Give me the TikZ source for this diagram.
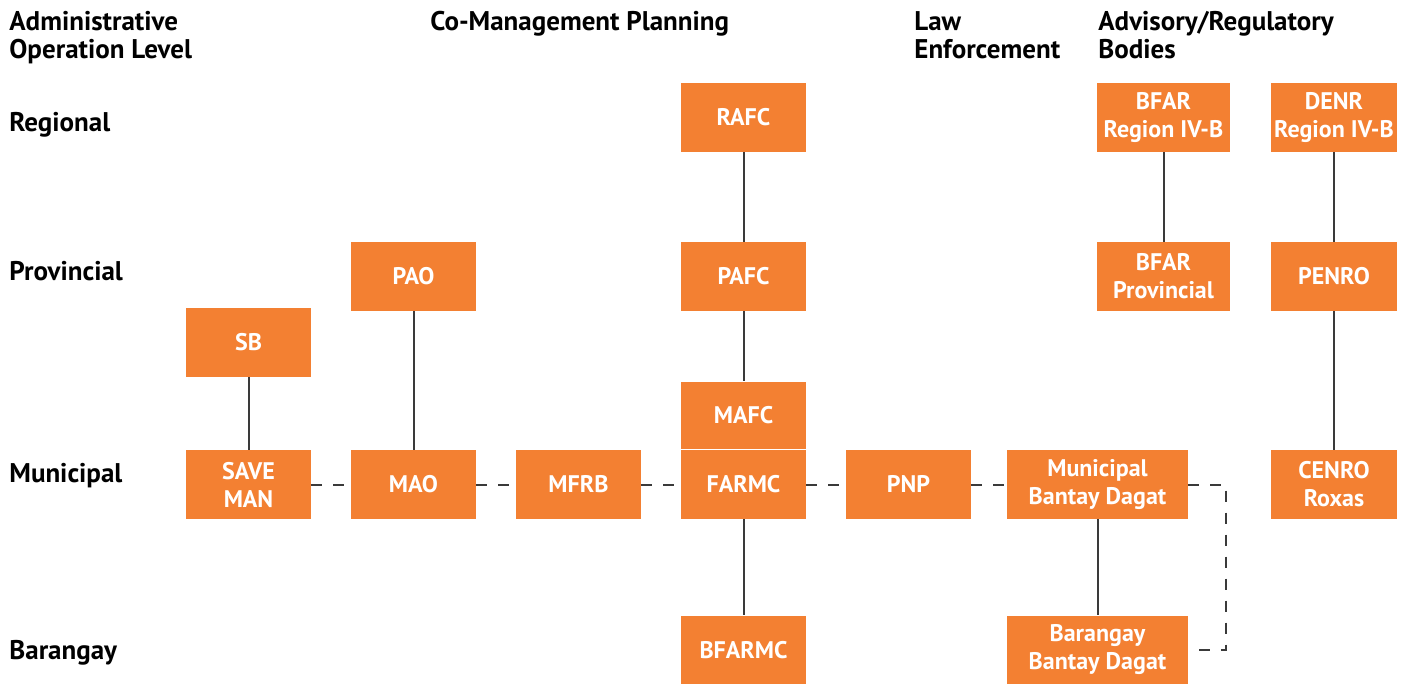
\documentclass[tikz,border=0pt]{standalone}
\usepackage{fontspec}
\setmainfont{PT Sans}
\usetikzlibrary{positioning, calc}
\definecolor{boxorange}{RGB}{243,128,50}
\definecolor{linegray}{RGB}{58,58,58}
\tikzset{
        orgbox/.style={
            rectangle, fill=boxorange, text=white, align=center,
            minimum width=62.5pt, minimum height=34.5pt, inner sep=0pt,
            font=\fontsize{12}{14}\selectfont\bfseries
        },
        levelname/.style={
            anchor=base west, align=left, inner sep=0pt,
            font=\fontsize{13.5}{14}\selectfont\bfseries
        },
        link/.style={draw=linegray, line width=1pt},
        coop/.style={draw=linegray, line width=1pt, dash pattern=on 5.5pt off 5.5pt},
}
\begin{document}
\begin{tikzpicture}[x=0.5pt, y=-0.5pt]
        \useasboundingbox (0,0) rectangle (1408,684);

        % HEADINGS (base = last line)
        \node[levelname] (hadmin) at (9,59)    {Administrative\\Operation Level};
        \node[levelname] (hcoman) at (430,31)  {Co-Management Planning};
        \node[levelname] (hlaw)   at (914,59)  {Law\\Enforcement};
        \node[levelname] (hadvis) at (1098,59) {Advisory/Regulatory\\Bodies};

        % LEVELS
        \node[levelname] (lreg)  at (9,132) {Regional};
        \node[levelname] (lprov) at (9,281) {Provincial};
        \node[levelname] (lmun)  at (9,482) {Municipal};
        \node[levelname] (lbrgy) at (9,659) {Barangay};

        % DRAW NODES (relative to FARMC)
        \node[orgbox] (farmc)   at (743.5,484.5)             {FARMC};
        \node[orgbox, minimum height=33.5pt]
                      (mafc)    at ($(farmc)+(0,-69.5)$)      {MAFC};
        \node[orgbox] (pafc)    at ($(farmc)+(0,-208)$)       {PAFC};
        \node[orgbox] (rafc)    at ($(farmc)+(0,-367)$)       {RAFC};
        \node[orgbox] (bfarmc)  at ($(farmc)+(0,165.5)$)      {BFARMC};
        \node[orgbox] (mfrb)    at ($(farmc)+(-165,0)$)       {MFRB};
        \node[orgbox] (mao)     at ($(farmc)+(-330,0)$)       {MAO};
        \node[orgbox] (pao)     at ($(farmc)+(-330,-208)$)    {PAO};
        \node[orgbox] (saveman) at ($(farmc)+(-495,0)$)       {SAVE\\MAN};
        \node[orgbox] (sb)      at ($(farmc)+(-495,-142)$)    {SB};
        \node[orgbox] (pnp)     at ($(farmc)+(165,0)$)        {PNP};
        \node[orgbox, minimum width=90.5pt]
                      (mbd)     at ($(farmc)+(354,0)$)        {Municipal\\Bantay Dagat};
        \node[orgbox, minimum width=90.5pt]
                      (bbd)     at ($(farmc)+(354,165.5)$)    {Barangay\\Bantay Dagat};
        \node[orgbox, minimum width=66.5pt]
                      (bfarreg) at ($(farmc)+(420,-367)$)     {BFAR\\Region IV-B};
        \node[orgbox, minimum width=66.5pt]
                      (bfarprv) at ($(farmc)+(420,-208)$)     {BFAR\\Provincial};
        \node[orgbox, minimum width=63pt]
                      (denr)    at ($(farmc)+(590.5,-367)$)   {DENR\\Region IV-B};
        \node[orgbox, minimum width=63pt]
                      (penro)   at ($(farmc)+(590.5,-208)$)   {PENRO};
        \node[orgbox, minimum width=63pt]
                      (cenro)   at ($(farmc)+(590.5,0)$)      {CENRO\\Roxas};

        % CONNECT HIERARCHY
        \draw[link] (rafc) -- (pafc);
        \draw[link] (pafc) -- (mafc);
        \draw[link] (farmc) -- (bfarmc);
        \draw[link] (pao) -- (mao);
        \draw[link] (sb) -- (saveman);
        \draw[link] (mbd) -- (bbd);
        \draw[link] (bfarreg) -- (bfarprv);
        \draw[link] (denr) -- (penro);
        \draw[link] (penro) -- (cenro);

        % CONNECT MUNICIPAL PARTNERS
        \draw[coop] (saveman) -- (mao);
        \draw[coop] (mao) -- (mfrb);
        \draw[coop] (mfrb) -- (farmc);
        \draw[coop] (farmc) -- (pnp);
        \draw[coop] (pnp) -- (mbd);
        \draw[coop] (mbd.east) -- ++(38,0) |- (bbd.east);

    \end{tikzpicture}
\end{document}
